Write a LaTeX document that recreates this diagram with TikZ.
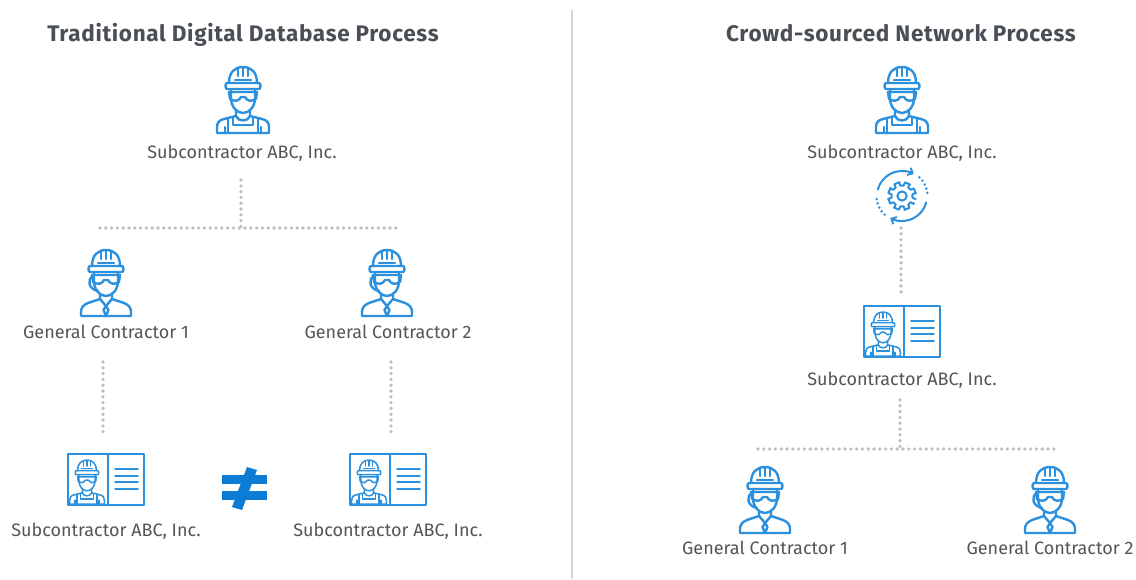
\documentclass[tikz,border=0pt]{standalone}
\usepackage{fontspec}
\setmainfont{Fira Sans}
\newfontfamily\ttlfont[LetterSpace=3]{Fira Sans}
\usetikzlibrary{arrows.meta}
\definecolor{iconblue}{HTML}{2B90DE}
\definecolor{solidblue}{HTML}{0C7CD5}
\definecolor{txtgray}{HTML}{555555}
\definecolor{titlegray}{HTML}{4A4F55}
\definecolor{dotgray}{HTML}{BDBDBD}
\definecolor{rulegray}{HTML}{D6D6D6}
\tikzset{
  x=1pt,y=-1pt,
  lbl/.style={font=\fontsize{18}{22}\selectfont,text=txtgray,inner sep=0pt,anchor=base},
  ttl/.style={font=\ttlfont\fontsize{22.5}{27}\selectfont\bfseries,text=titlegray,inner sep=0pt,anchor=base},
  dotline/.style={draw=dotgray,line width=3.6pt,line cap=round,dash pattern=on 0pt off 5.8pt},
  ico/.style={draw=iconblue,line width=2.4pt,line join=round,line cap=round,fill=none},
  icothin/.style={draw=iconblue,line width=1.5pt,line join=round,line cap=round,fill=none},
  pics/head/.style={code={
    % helmet
    \draw[#1] (-14,16) .. controls (-14,5) and (-8,0) .. (0,0) .. controls (8,0) and (14,5) .. (14,16);
    \draw[#1] (-16,16) -- (16,16) .. controls (18,16) and (18,22) .. (16,22) -- (-16,22) .. controls (-18,22) and (-18,16) .. (-16,16);
    \draw[#1] (-5,2) -- (-5,9) (0,1) -- (0,9) (5,2) -- (5,9);
    \draw[#1] (-8,13) -- (8,13);
    % face
    \draw[#1] (-12,22) -- (-12,31) .. controls (-12,40) and (-6,46) .. (0,46) .. controls (6,46) and (12,40) .. (12,31) -- (12,22);
    % goggles
    \draw[#1] (-14,25) -- (14,25) -- (13,32) .. controls (8,35) and (4,34) .. (2,30) -- (-2,30) .. controls (-4,34) and (-8,35) .. (-13,32) -- cycle;
  }},
  pics/overalls/.style={code={
    \draw[#1] (-7,44) -- (-7,49) .. controls (-5,55) and (5,55) .. (7,49) -- (7,44);
    \draw[#1] (-7,49) -- (-19,52) .. controls (-24,53) and (-26,56) .. (-26,60) -- (-26,66) -- (26,66) -- (26,60) .. controls (26,56) and (24,53) .. (19,52) -- (7,49);
    \draw[#1] (-15,51) -- (-15,66) (-10,50) -- (-10,58) -- (10,58) -- (10,50) (15,51) -- (15,66);
    \draw[#1] (-18,66) -- (-18,60) (18,66) -- (18,60);
  }},
  pics/suit/.style={code={
    \draw[#1] (-6,44) -- (-6,49) -- (0,56) -- (6,49) -- (6,44);
    \draw[#1] (-6,49) -- (-18,53) .. controls (-23,55) and (-25,58) .. (-25,62) -- (-25,66) -- (25,66) -- (25,62) .. controls (25,58) and (23,55) .. (18,53) -- (6,49);
    \draw[#1] (0,56) -- (-2.5,60) -- (0,66) -- (2.5,60) -- cycle;
    % earpiece
    \draw[#1] (-13,26) .. controls (-19,29) and (-18,39) .. (-8,41);
  }},
  pics/subworker/.style={code={
    \pic {head={ico}}; \pic {overalls={ico}};
  }},
  pics/gcworker/.style={code={
    \pic {head={ico}}; \pic {suit={ico}};
  }},
  pics/card/.style={code={
    \draw[icothin,line width=1.7pt] (-38,0) rectangle (38,51);
    \draw[icothin,line width=1.7pt] (2,0) -- (2,51);
    \foreach \yy in {15,22,28,35}{\draw[icothin] (9,\yy) -- (32,\yy);}
    \pic[scale=.67] at (-19,6) {head={icothin}};
    \pic[scale=.67] at (-19,6) {overalls={icothin}};
  }},
  pics/gearcycle/.style={code={
    \begin{scope}[yscale=-1]
    \draw[ico,line width=2pt] (-13:14)
      \foreach \a in {0,45,...,315}{
        -- (\a-13:14) -- (\a-8:10.5) -- (\a+8:10.5) -- (\a+13:14) -- (\a+22.5-13:14)
      } ;
    \draw[ico,line width=2pt] (0,0) circle (4.6);
    \draw[ico,line width=2pt,-{Straight Barb[length=4pt,width=8pt]}] (165:25) arc (165:62:25);
    \draw[ico,line width=2pt,-{Straight Barb[length=4pt,width=8pt]}] (-15:25) arc (-15:-118:25);
    \foreach \a in {47,37,27,17,7}{\fill[iconblue] (\a:25.5) circle (1.4);}
    \foreach \a in {227,217,207,197,187}{\fill[iconblue] (\a:25.5) circle (1.4);}
    \end{scope}
  }},
}
\begin{document}
\begin{tikzpicture}
\useasboundingbox (0,0) rectangle (1136,579);
\fill[white] (0,0) rectangle (1136,579);

% named free ends
\coordinate (ruleT) at (572,10);
\coordinate (ruleB) at (572,579);
\draw[rulegray,line width=1.3pt] (ruleT) -- (ruleB);

\node[ttl] (tL) at (243,41) {Traditional Digital Database Process};
\node[ttl] (tR) at (901,41) {Crowd-sourced Network Process};

% Left column
\pic at (243,67) {subworker};
\node[lbl] (a0) at (242,158) {Subcontractor ABC, Inc.};
\pic at (106,250) {gcworker};
\node[lbl] (a1) at (106,338) {General Contractor 1};
\pic at (387,250) {gcworker};
\node[lbl] (a2) at (388,338) {General Contractor 2};
\pic at (106,454) {card};
\node[lbl] (a3) at (106,536) {Subcontractor ABC, Inc.};
\pic at (388,454) {card};
\node[lbl] (a4) at (388,536) {Subcontractor ABC, Inc.};

\coordinate (j0) at (241,180);
\coordinate (j1) at (241,228);
\coordinate (h0) at (100,228);
\coordinate (h1) at (397,228);
\coordinate (l0) at (103,362);
\coordinate (l1) at (103,432);
\coordinate (r0) at (391,362);
\coordinate (r1) at (391,432);
\draw[dotline] (j0) -- (j1);
\draw[dotline] (h0) -- (h1);
\draw[dotline] (l0) -- (l1);
\draw[dotline] (r0) -- (r1);

% not equal
\fill[solidblue] (222,475) rectangle (267,484);
\fill[solidblue] (222,491) rectangle (267,500);
\fill[solidblue] (247,467) -- (257,470) -- (242,510) -- (232,507) -- cycle;

% Right column
\pic at (902,67) {subworker};
\node[lbl] (b0) at (902,158) {Subcontractor ABC, Inc.};
\pic at (902,196) {gearcycle};
\pic at (902,306) {card};
\node[lbl] (b1) at (902,385) {Subcontractor ABC, Inc.};
\pic at (765,467) {gcworker};
\node[lbl] (b2) at (765,554) {General Contractor 1};
\pic at (1050,467) {gcworker};
\node[lbl] (b3) at (1050,554) {General Contractor 2};

\coordinate (p0) at (901,228);
\coordinate (p1) at (901,292);
\coordinate (q0) at (900,400);
\coordinate (q1) at (900,449);
\coordinate (s0) at (758,449);
\coordinate (s1) at (1054,449);
\draw[dotline] (p0) -- (p1);
\draw[dotline] (q0) -- (q1);
\draw[dotline] (s0) -- (s1);
\end{tikzpicture}
\end{document}
